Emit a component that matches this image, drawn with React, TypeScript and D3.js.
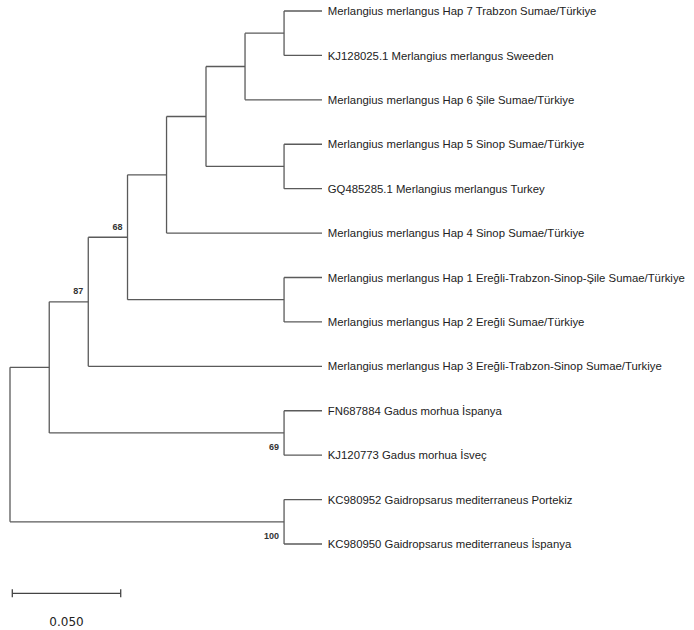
import React from "react";
import * as d3 from "d3";

const leafLabels: string[] = [
  "Merlangius merlangus Hap 7 Trabzon Sumae/Türkiye",
  "KJ128025.1 Merlangius merlangus Sweeden",
  "Merlangius merlangus Hap 6 Şile Sumae/Türkiye",
  "Merlangius merlangus Hap 5 Sinop Sumae/Türkiye",
  "GQ485285.1 Merlangius merlangus Turkey",
  "Merlangius merlangus Hap 4 Sinop Sumae/Türkiye",
  "Merlangius merlangus Hap 1 Ereğli-Trabzon-Sinop-Şile Sumae/Türkiye",
  "Merlangius merlangus Hap 2 Ereğli Sumae/Türkiye",
  "Merlangius merlangus Hap 3 Ereğli-Trabzon-Sinop Sumae/Turkiye",
  "FN687884 Gadus morhua İspanya",
  "KJ120773 Gadus morhua İsveç",
  "KC980952 Gaidropsarus mediterraneus Portekiz",
  "KC980950 Gaidropsarus mediterraneus İspanya",
];

// internal nodes: children ids (L# = leaf index) and node height (distance to tips)
const internalNodes = [
  { id: "n1", children: ["L0", "L1"], height: 0.0175 },
  { id: "n2", children: ["n1", "L2"], height: 0.0355 },
  { id: "n3", children: ["L3", "L4"], height: 0.0175 },
  { id: "n4", children: ["n2", "n3"], height: 0.0535 },
  { id: "n5", children: ["n4", "L5"], height: 0.0717 },
  { id: "n6", children: ["L6", "L7"], height: 0.0175 },
  { id: "n7", children: ["n5", "n6"], height: 0.0897 },
  { id: "n8", children: ["n7", "L8"], height: 0.1078 },
  { id: "n9", children: ["L9", "L10"], height: 0.0175 },
  { id: "n10", children: ["n8", "n9"], height: 0.1258 },
  { id: "n11", children: ["L11", "L12"], height: 0.0175 },
  { id: "root", children: ["n10", "n11"], height: 0.1439 },
];

const bootstrapValues = [
  { node: "n7", value: "68", side: "above" },
  { node: "n8", value: "87", side: "above" },
  { node: "n9", value: "69", side: "below" },
  { node: "n11", value: "100", side: "below" },
];

const scaleBarValue = 0.05;
const scaleBarLabel = "0.050";

type TNode = { id: string; name?: string; height: number; children?: TNode[] };

function buildTree(): TNode {
  const map = new Map<string, TNode>();
  leafLabels.forEach((name, i) => map.set("L" + i, { id: "L" + i, name, height: 0 }));
  internalNodes.forEach((n) => {
    map.set(n.id, { id: n.id, height: n.height, children: n.children.map((c) => map.get(c)!) });
  });
  return map.get("root")!;
}

export default function App() {
  const W = 694;
  const H = 630;
  const tree = buildTree();
  const root = d3.hierarchy<TNode>(tree, (d) => d.children);
  const rootHeight = tree.height;

  const xScale = d3.scaleLinear().domain([0, rootHeight]).range([10, 322]);
  const yScale = d3.scalePoint<string>().domain(leafLabels).range([11, 544]);

  const pos = new Map<string, { x: number; y: number }>();
  root.eachAfter((n) => {
    const x = xScale(rootHeight - n.data.height);
    let y: number;
    if (!n.children) y = yScale(n.data.name!)!;
    else {
      const f = pos.get(n.children[0].data.id)!.y;
      const l = pos.get(n.children[n.children.length - 1].data.id)!.y;
      y = (f + l) / 2;
    }
    pos.set(n.data.id, { x, y });
  });

  const stroke = "#5a5a5a";
  const lines: JSX.Element[] = [];
  root.each((n) => {
    const p = pos.get(n.data.id)!;
    if (n.parent) {
      const pp = pos.get(n.parent.data.id)!;
      lines.push(
        <line key={"h" + n.data.id} x1={pp.x} x2={p.x} y1={p.y} y2={p.y} stroke={stroke} strokeWidth={1.3} />
      );
    }
    if (n.children) {
      const f = pos.get(n.children[0].data.id)!.y;
      const l = pos.get(n.children[n.children.length - 1].data.id)!.y;
      lines.push(
        <line key={"v" + n.data.id} x1={p.x} x2={p.x} y1={f} y2={l} stroke={stroke} strokeWidth={1.3} />
      );
    }
  });

  const barX0 = 12.3;
  const barX1 = barX0 + (xScale(scaleBarValue) - xScale(0));
  const barY = 593.3;

  return (
    <svg
      width={W}
      height={H}
      viewBox={`0 0 ${W} ${H}`}
      style={{ position: "absolute", left: 0, top: 0, background: "#fff", display: "block" }}
    >
      <rect x={0} y={0} width={W} height={H} fill="#fff" />
      <g>{lines}</g>
      <g fontFamily="'Liberation Sans', Arial, sans-serif" fontSize={11.35} fill="#222">
        {root.leaves().map((lf) => {
          const p = pos.get(lf.data.id)!;
          return (
            <text key={lf.data.id} x={p.x + 5.8} y={p.y} dy="0.36em">
              {lf.data.name}
            </text>
          );
        })}
      </g>
      <g
        fontFamily="'Liberation Sans', Arial, sans-serif"
        fontSize={9}
        fontWeight="bold"
        fill="#333"
        textAnchor="end"
      >
        {bootstrapValues.map((b) => {
          const p = pos.get(b.node)!;
          const y = b.side === "above" ? p.y - 10.8 : p.y + 14;
          return (
            <text key={b.node} x={p.x - 5} y={y} dy="0.36em">
              {b.value}
            </text>
          );
        })}
      </g>
      <g stroke="#444" strokeWidth={1.3}>
        <line x1={barX0} x2={barX1} y1={barY} y2={barY} />
        <line x1={barX0} x2={barX0} y1={barY - 4} y2={barY + 4} />
        <line x1={barX1} x2={barX1} y1={barY - 4} y2={barY + 4} />
      </g>
      <text
        x={(barX0 + barX1) / 2}
        y={625.5}
        textAnchor="middle"
        fontFamily="'DejaVu Sans', Verdana, sans-serif"
        fontSize={12}
        fill="#222"
      >
        {scaleBarLabel}
      </text>
    </svg>
  );
}
